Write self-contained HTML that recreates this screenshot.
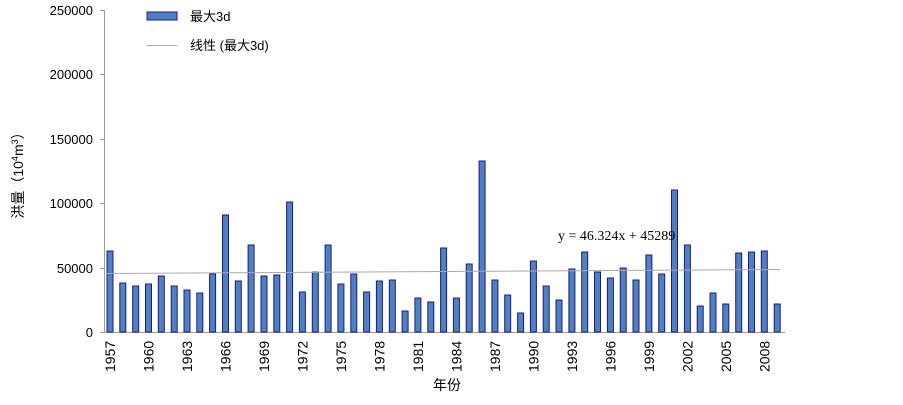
<!DOCTYPE html>
<html><head><meta charset="utf-8"><style>
body{margin:0;background:#fff}
svg text{font-family:"Liberation Sans","Noto Sans CJK SC",sans-serif;fill:#000}
</style></head><body>
<svg width="903" height="400" xmlns="http://www.w3.org/2000/svg">
<g font-size="13" text-anchor="end">
<text x="93" y="15">250000</text>
<text x="93" y="79">200000</text>
<text x="93" y="144">150000</text>
<text x="93" y="208">100000</text>
<text x="93" y="273">50000</text>
<text x="93" y="337">0</text>
</g>
<g stroke="#999" stroke-width="1">
<line x1="104.5" y1="10" x2="104.5" y2="332"/>
<line x1="100" y1="10.5" x2="104" y2="10.5"/>
<line x1="100" y1="74.5" x2="104" y2="74.5"/>
<line x1="100" y1="139.5" x2="104" y2="139.5"/>
<line x1="100" y1="203.5" x2="104" y2="203.5"/>
<line x1="100" y1="268.5" x2="104" y2="268.5"/>
<line x1="100" y1="332.5" x2="785" y2="332.5"/>
</g>
<g id="bars" fill="#4f81bd" stroke="#1a1a8c" stroke-width="1"></g>
<line x1="106" y1="273.5" x2="780" y2="269.5" stroke="#aaa" stroke-width="1"/>
<g id="xl" font-size="14"></g>
<text x="558" y="240" font-size="14" style="font-family:'Liberation Serif',serif">y = 46.324x + 45289</text>
<rect x="147" y="12" width="30" height="8" fill="#4f81bd" stroke="#1a1a8c"/>
<text x="190" y="21" font-size="13">最大3d</text>
<line x1="147" y1="45.5" x2="177" y2="45.5" stroke="#aaa"/>
<text x="190" y="50" font-size="13">线性 (最大3d)</text>
<text x="447" y="390" font-size="14" text-anchor="middle">年份</text>
<text transform="translate(23,172) rotate(-90)" font-size="14" text-anchor="middle">洪量（10<tspan font-size="9" dy="-5">4</tspan><tspan dy="5">m</tspan><tspan font-size="9" dy="-5">3</tspan><tspan dy="5">）</tspan></text>
</svg>
<script>
var tops=[251,283,286,284,276,286,290,293,274,215,281,245,276,275,202,292,272,245,284,274,292,281,280,311,298,302,248,298,264,161,280,295,313,261,286,300,269,252,272,278,268,280,255,274,190,245,306,293,304,253,252,251,304];
var g=document.getElementById('bars'),xl=document.getElementById('xl'),s='';
for(var i=0;i<tops.length;i++){var cx=110+i*12.83;
s+='<rect x="'+(cx-3).toFixed(1)+'" y="'+tops[i]+'" width="6" height="'+(332-tops[i])+'"/>';}
g.innerHTML=s;var t='';
for(var i=0;i<tops.length;i+=3){var cx=110+i*12.83+5;
t+='<text transform="translate('+cx.toFixed(1)+',372) rotate(-90)">'+(1957+i)+'</text>';}
xl.innerHTML=t;
</script>
</body></html>
